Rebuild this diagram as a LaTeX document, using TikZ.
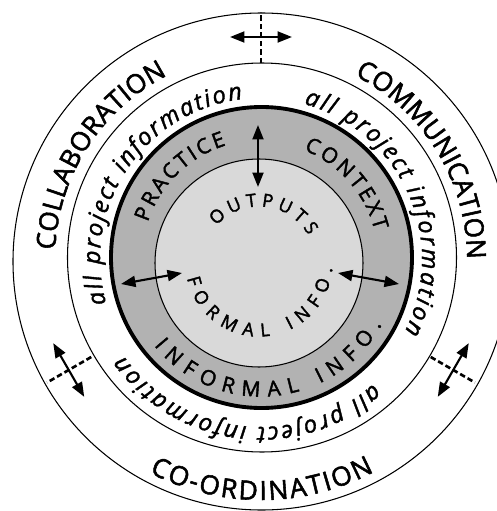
\documentclass[tikz,border=0pt]{standalone}
\usepackage{fontspec}
\setsansfont{Open Sans}
\newfontfamily\heavysans{Open Sans}[UprightFeatures={FakeBold=2}, ItalicFeatures={FakeBold=1.6}]
\usetikzlibrary{arrows.meta,calc,decorations.text}

\newcommand\ringfont{\heavysans\fontsize{15}{17}\selectfont}
\newcommand\infofont{\heavysans\itshape\fontsize{13.5}{15}\selectfont}
\newcommand\bandfont{\heavysans\fontsize{12}{14}\selectfont}
\newcommand\corefont{\heavysans\fontsize{10.3}{12}\selectfont}

\begin{document}
\begin{tikzpicture}[x=0.02cm,y=0.02cm,
ring/.style={draw, line width=0.6pt},
dbl/.style={{Triangle[length=2.9mm,width=2.2mm]}-{Triangle[length=2.9mm,width=2.2mm]}, line width=1.2pt},
divider/.style={line width=1.5pt, dash pattern=on 1.1mm off 0.6mm},
arctext/.style={decorate, decoration={text along path, text align={fit to path}, text={#1}}}
]
\useasboundingbox (-261,-252) rectangle (236,259);
\clip (-261,-252) rectangle (236,259);
\fill[white] (-261,-252) rectangle (236,259);

\draw[ring] (0.5,-2.5) circle[radius=248.5];
\draw[ring] (1,1.5) circle[radius=194.5];
\fill[black!30] (0.5,1.5) circle[radius=150.5];
\draw[ring, fill=black!15] (-2,-4) circle[radius=104];
\draw[line width=2.2pt] (0.5,1.5) circle[radius=150.5];

\path[arctext={|\ringfont|COLLABORATION}] (177.5:206) arc[start angle=177.5, end angle=117, radius=206];
\path[arctext={|\ringfont|COMMUNICATION}] (63:206) arc[start angle=63, end angle=1, radius=206];
\path[arctext={|\ringfont|CO-ORDINATION}] (242.4:241) arc[start angle=242.4, end angle=298, radius=241];

\path[arctext={|\infofont|all project information}] (196:161) arc[start angle=196, end angle=96.5, radius=161];
\path[arctext={|\infofont|all project information}] (74.5:161) arc[start angle=74.5, end angle=-27, radius=161];
\path[arctext={|\infofont|all project information}] (-48:168) arc[start angle=-48, end angle=-145, radius=168];

\path[arctext={|\bandfont|PRACTICE}] (162:119) arc[start angle=162, end angle=107, radius=119];
\path[arctext={|\bandfont|CONTEXT}] (68.5:117) arc[start angle=68.5, end angle=14, radius=117];
\path[arctext={|\bandfont|INFORMAL INFO.}] (219:137.5) arc[start angle=219, end angle=331.5, radius=137.5];

\begin{scope}[shift={(-2,-4)}]
\path[arctext={|\corefont|OUTPUTS}] (139:56.5) arc[start angle=139, end angle=29, radius=56.5];
\path[arctext={|\corefont|FORMAL INFO.}] (192:73.5) arc[start angle=192, end angle=356, radius=73.5];
\end{scope}

\foreach \a/\n in {90/t,210/l,330/r}{
  \coordinate (in\n) at (\a:196);
  \coordinate (out\n) at (\a:247);
  \coordinate (p\n) at ($(\a:222)+(\a+90:31)$);
  \coordinate (q\n) at ($(\a:222)+(\a-90:31)$);
  \draw[divider] (in\n) -- (out\n);
  \draw[dbl] (p\n) -- (q\n);
}

\coordinate (topa) at (-3,134);
\coordinate (topb) at (-3,72);
\coordinate (lefta) at (-140,-25);
\coordinate (leftb) at (-79,-14);
\coordinate (righta) at (77,-14);
\coordinate (rightb) at (138,-25);
\draw[dbl] (topa) -- (topb);
\draw[dbl] (lefta) -- (leftb);
\draw[dbl] (righta) -- (rightb);
\end{tikzpicture}
\end{document}
